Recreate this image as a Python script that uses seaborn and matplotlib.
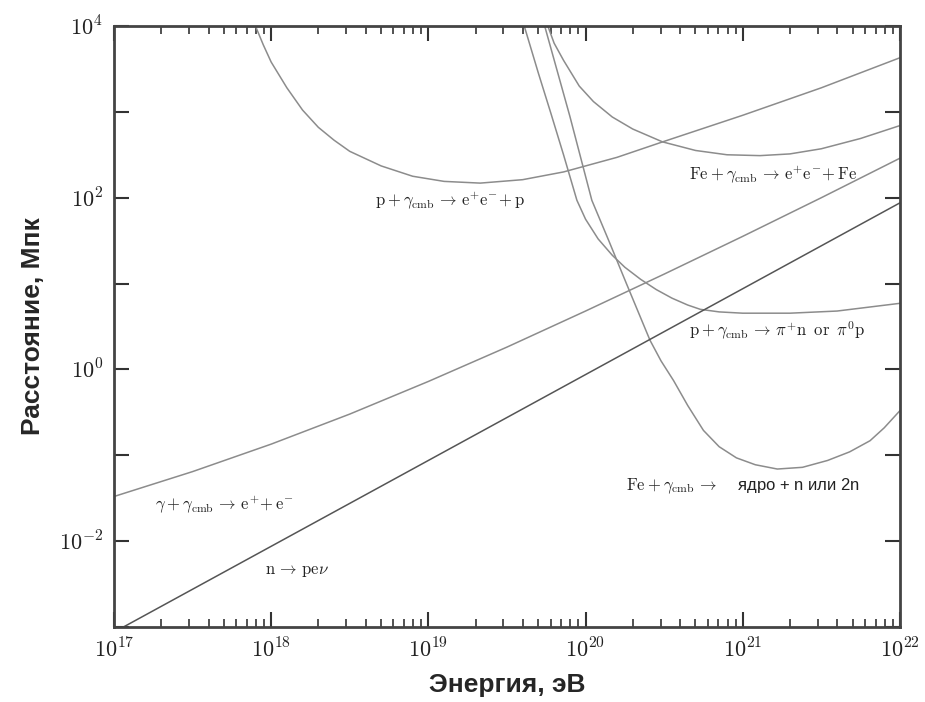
import numpy as np
import pandas as pd
import matplotlib
matplotlib.use("Agg")
import matplotlib.pyplot as plt
import matplotlib.ticker as mticker
import seaborn as sns

# Energy-loss / interaction lengths, stored as log10(E [eV]) and log10(L [Mpc])
p_pair_logE = [17.90, 17.95, 18.0, 18.1, 18.2, 18.3, 18.4, 18.5, 18.7, 18.9, 19.1,
               19.33, 19.6, 19.86, 20.2, 20.49, 21.0, 21.5, 22.0]
p_pair_logL = [4.0, 3.78, 3.58, 3.28, 3.02, 2.82, 2.67, 2.54, 2.37, 2.25, 2.19,
               2.17, 2.21, 2.30, 2.47, 2.65, 2.96, 3.28, 3.63]

fe_pair_logE = [19.76, 19.80, 19.86, 19.92, 19.96, 20.05, 20.17, 20.3, 20.49, 20.7,
                20.9, 21.11, 21.3, 21.5, 21.75, 22.0]
fe_pair_logL = [4.0, 3.80, 3.60, 3.42, 3.30, 3.12, 2.94, 2.80, 2.65, 2.55,
                2.50, 2.49, 2.51, 2.57, 2.69, 2.84]

pion_logE = [19.61, 19.70, 19.78, 19.86, 19.945, 20.0, 20.08, 20.17, 20.25, 20.35,
             20.45, 20.55, 20.65, 20.73, 20.85, 21.0, 21.3, 21.6, 22.0]
pion_logL = [4.0, 3.45, 2.98, 2.50, 1.97, 1.75, 1.52, 1.33, 1.19, 1.05,
             0.93, 0.83, 0.75, 0.70, 0.67, 0.655, 0.655, 0.68, 0.77]

fe_dis_logE = [19.74, 19.90, 20.04, 20.15, 20.26, 20.41, 20.48, 20.56, 20.65, 20.75,
               20.85, 20.96, 21.08, 21.22, 21.38, 21.54, 21.68, 21.81, 21.9, 22.0]
fe_dis_logL = [4.0, 2.95, 1.97, 1.49, 1.0, 0.34, 0.10, -0.13, -0.42, -0.71,
               -0.90, -1.03, -1.11, -1.16, -1.14, -1.06, -0.96, -0.83, -0.68, -0.48]

gg_logE = [17.0, 17.5, 18.0, 18.5, 19.0, 19.5, 20.0, 20.5, 21.0, 21.5, 22.0]
gg_logL = [-1.48, -1.19, -0.87, -0.52, -0.14, 0.26, 0.68, 1.11, 1.55, 2.00, 2.46]

n_decay_logE = [17.0, 22.0]
n_decay_logL = [-3.06, 1.94]

curves = [
    (p_pair_logE, p_pair_logL, "#8c8c8c"),
    (fe_pair_logE, fe_pair_logL, "#8c8c8c"),
    (pion_logE, pion_logL, "#8c8c8c"),
    (fe_dis_logE, fe_dis_logL, "#8c8c8c"),
    (gg_logE, gg_logL, "#8c8c8c"),
    (n_decay_logE, n_decay_logL, "#555555"),
]

sns.set_style("ticks")
plt.rcParams["mathtext.fontset"] = "cm"
plt.rcParams["font.family"] = ["Liberation Sans", "DejaVu Sans"]

fig = plt.figure(figsize=(9.25, 7.02), dpi=100)
ax = fig.add_axes([0.1232, 0.1068, 0.8497, 0.8562])

for le, ll, col in curves:
    df = pd.DataFrame({"E": 10.0 ** np.asarray(le), "L": 10.0 ** np.asarray(ll)})
    sns.lineplot(data=df, x="E", y="L", ax=ax, color=col, lw=1.1,
                 estimator=None, sort=False, legend=False)

ax.set_xscale("log")
ax.set_yscale("log")
ax.set_xlim(1e17, 1e22)
ax.set_ylim(1e-3, 1e4)

# ticks: inward on all four sides, decades on both axes, minor decade ticks on x
ax.xaxis.set_major_locator(mticker.FixedLocator([10.0 ** k for k in range(17, 23)]))
ax.xaxis.set_minor_locator(mticker.FixedLocator(
    [m * 10.0 ** k for k in range(17, 22) for m in range(2, 10)]))
ax.yaxis.set_major_locator(mticker.FixedLocator([10.0 ** k for k in range(-3, 5)]))
ax.yaxis.set_minor_locator(mticker.NullLocator())
ax.yaxis.set_major_formatter(
    mticker.FuncFormatter(lambda v, p: (r"$10^{%d}$" % round(np.log10(v))) if round(np.log10(v)) % 2 == 0 else "")
)
ax.xaxis.set_major_formatter(
    mticker.FuncFormatter(lambda v, p: r"$10^{%d}$" % round(np.log10(v)))
)
ax.tick_params(which="both", direction="in", top=True, right=True, colors="#333333",
               labelcolor="#222222", labelsize=16)
ax.tick_params(which="major", length=11, width=1.5, pad=8)
ax.tick_params(which="minor", length=6, width=1.2)
for s in ax.spines.values():
    s.set_linewidth(2.0)
    s.set_color("#444444")

ax.set_xlabel("Энергия, эВ", fontsize=19, fontweight="bold", labelpad=8)
ax.set_ylabel("Расстояние, Мпк", fontsize=19, fontweight="bold", labelpad=10)

txt_kw = dict(fontsize=12, color="#222222", va="center", ha="left")
ax.text(10 ** 18.66, 10 ** 1.97, r"$\mathrm{p+\gamma_{cmb}\,\rightarrow\, e^{+}e^{-}\!+p}$", **txt_kw)
ax.text(10 ** 20.66, 10 ** 2.28, r"$\mathrm{Fe+\gamma_{cmb}\,\rightarrow\, e^{+}e^{-}\!+Fe}$", **txt_kw)
ax.text(10 ** 20.66, 10 ** 0.45, r"$\mathrm{p+\gamma_{cmb}\,\rightarrow\,\pi^{+}n\;\;or\;\;\pi^{0}p}$", **txt_kw)
ax.text(10 ** 20.26, 10 ** -1.36, r"$\mathrm{Fe+\gamma_{cmb}\,\rightarrow}$    ядро + n или 2n", **txt_kw)
ax.text(10 ** 17.26, 10 ** -1.57, r"$\mathrm{\gamma+\gamma_{cmb}\,\rightarrow\, e^{+}\!+e^{-}}$", **txt_kw)
ax.text(10 ** 17.96, 10 ** -2.35, r"$\mathrm{n\,\rightarrow\, pe\nu}$", **txt_kw)

fig.savefig("out.png", dpi=100)
